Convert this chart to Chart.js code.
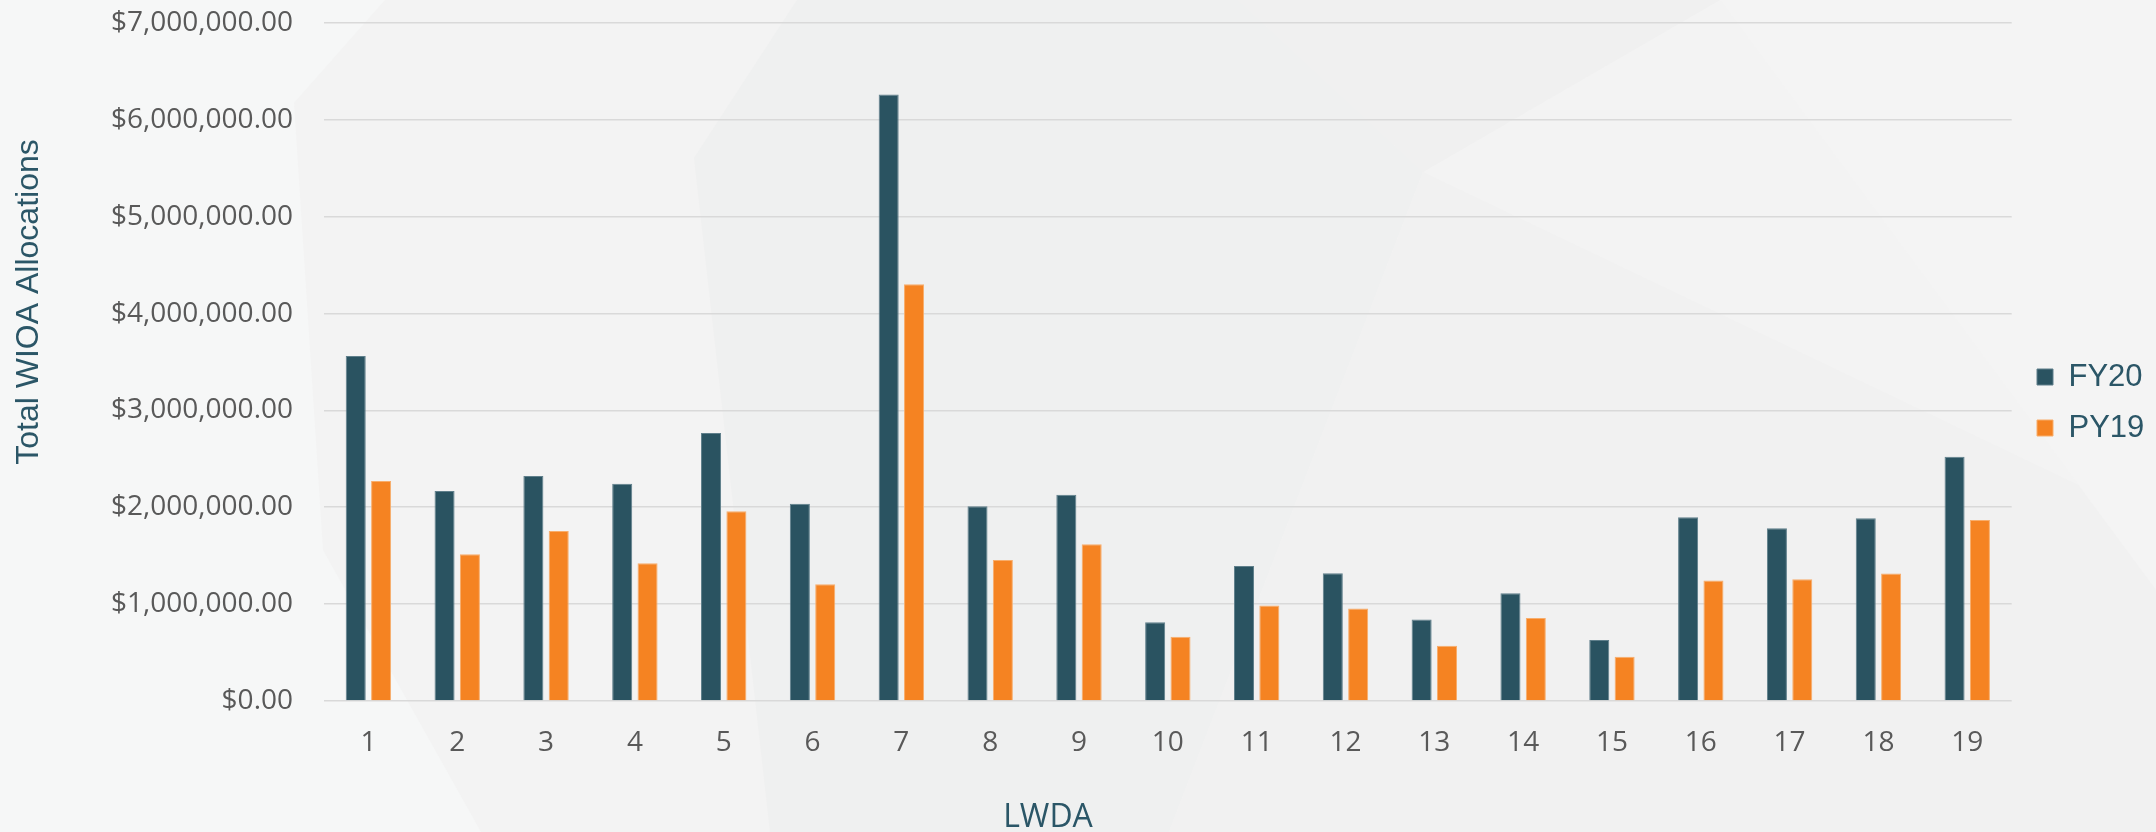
<!DOCTYPE html>
<html>
<head>
<meta charset="utf-8">
<script src="https://cdn.jsdelivr.net/npm/chart.js@4.4.1/dist/chart.umd.min.js"></script>
<style>
  html, body { margin: 0; padding: 0; background: #f3f3f3; }
  #c { display: block; }
</style>
</head>
<body>
<canvas id="c" width="2156" height="832"></canvas>
<script>
// ---- data ----
const categories = ['1','2','3','4','5','6','7','8','9','10','11','12','13','14','15','16','17','18','19'];
const fy20 = [3563000, 2168000, 2323000, 2243000, 2766000, 2037000, 6261000, 2010000, 2130000, 814000,
              1395000, 1320000, 841000, 1113000, 629000, 1897000, 1784000, 1887000, 2522000];
const py19 = [2271000, 1515000, 1756000, 1423000, 1959000, 1206000, 4302000, 1457000, 1619000, 663000,
              986000, 955000, 570000, 856000, 457000, 1243000, 1258000, 1316000, 1869000];
const seriesNames = ['FY20', 'PY19'];
const yTickValues = [0, 1000000, 2000000, 3000000, 4000000, 5000000, 6000000, 7000000];
const yAxisTitle = 'Total WIOA Allocations';
const xAxisTitle = 'LWDA';

const TEAL = '#2a5361';
const ORANGE = '#f58322';
const TITLE_COLOR = '#2b5667';

function fmtMoney(v) {
  return '$' + Number(v).toLocaleString('en-US', {minimumFractionDigits: 2, maximumFractionDigits: 2});
}

const bgPlugin = {
  id: 'bg',
  beforeDraw(chart) {
    const ctx = chart.ctx;
    const W = chart.width, H = chart.height;
    ctx.save();
    ctx.fillStyle = '#f3f3f3';
    ctx.fillRect(0, 0, W, H);
    const polys = [
      {c: '#f6f7f7', p: [[0,0],[385,0],[294,103],[323,550],[481,832],[0,832]]},
      {c: '#eff0f0', p: [[797,0],[1238,0],[1423,172],[1169,832],[770,832],[694,158]]},
      {c: '#f0f0f0', p: [[1238,0],[1720,0],[1423,172]]},
      {c: '#f1f1f1', p: [[1423,172],[2156,522],[2156,832],[1169,832]]},
      {c: '#f4f4f4', p: [[1720,0],[2156,0],[2156,590]]}
    ];
    for (const poly of polys) {
      ctx.fillStyle = poly.c;
      ctx.beginPath();
      poly.p.forEach((pt, i) => i ? ctx.lineTo(pt[0], pt[1]) : ctx.moveTo(pt[0], pt[1]));
      ctx.closePath();
      ctx.fill();
    }
    ctx.restore();
  }
};

const titlesPlugin = {
  id: 'axisTitles',
  afterLayout(chart) {
    const lg = chart.legend;
    if (lg) {
      const w = lg.right - lg.left;
      lg.left = 2017; lg.right = 2017 + w;
      lg.top -= 25; lg.bottom -= 25;
    }
  },
  afterDraw(chart) {
    const ctx = chart.ctx;
    ctx.save();
    ctx.fillStyle = TITLE_COLOR;
    ctx.textAlign = 'center';
    ctx.textBaseline = 'middle';
    ctx.font = '32px "Liberation Sans", Arial, sans-serif';
    ctx.translate(29, 302);
    ctx.rotate(-Math.PI / 2);
    ctx.fillText(yAxisTitle, 0, 0);
    ctx.restore();
    ctx.save();
    ctx.fillStyle = TITLE_COLOR;
    ctx.textAlign = 'center';
    ctx.textBaseline = 'middle';
    ctx.font = '32px "Open Sans", sans-serif';
    ctx.fillText(xAxisTitle, 1048, 818);
    ctx.restore();
  }
};

new Chart(document.getElementById('c'), {
  type: 'bar',
  data: {
    labels: categories,
    datasets: [
      { label: seriesNames[0], data: fy20, backgroundColor: TEAL, borderColor: '#5f7f8b', borderWidth: 1,
        categoryPercentage: 0.571, barPercentage: 0.79 },
      { label: seriesNames[1], data: py19, backgroundColor: ORANGE, borderColor: '#f8ad6b', borderWidth: 1,
        categoryPercentage: 0.571, barPercentage: 0.79 }
    ]
  },
  options: {
    responsive: false,
    devicePixelRatio: 1,
    animation: false,
    layout: { padding: { left: 0, top: 23, right: 7, bottom: 0 } },
    plugins: {
      legend: {
        position: 'right',
        align: 'center',
        labels: {
          boxWidth: 16, boxHeight: 16, padding: 20,
          color: TITLE_COLOR,
          font: { family: '"Liberation Sans", Arial, sans-serif', size: 31 }
        }
      },
      tooltip: { enabled: false },
      title: { display: false }
    },
    scales: {
      x: {
        grid: { display: false, drawTicks: false },
        border: { display: false },
        ticks: { color: '#595959', padding: 25, font: { family: '"Open Sans", sans-serif', size: 28 } },
        afterFit(scale) { scale.height = 131; }
      },
      y: {
        min: 0, max: 7000000,
        afterBuildTicks(scale) { scale.ticks = yTickValues.map(v => ({ value: v })); },
        grid: { color: '#d9d9d9', lineWidth: 1.6, drawTicks: false },
        border: { display: false },
        ticks: {
          color: '#595959', padding: 31,
          font: { family: '"Open Sans", sans-serif', size: 28 },
          callback: (v) => fmtMoney(v)
        },
        afterFit(scale) { scale.width = 324; scale.paddingTop = 17; scale.paddingBottom = 17; }
      }
    }
  },
  plugins: [bgPlugin, titlesPlugin]
});
</script>
</body>
</html>
